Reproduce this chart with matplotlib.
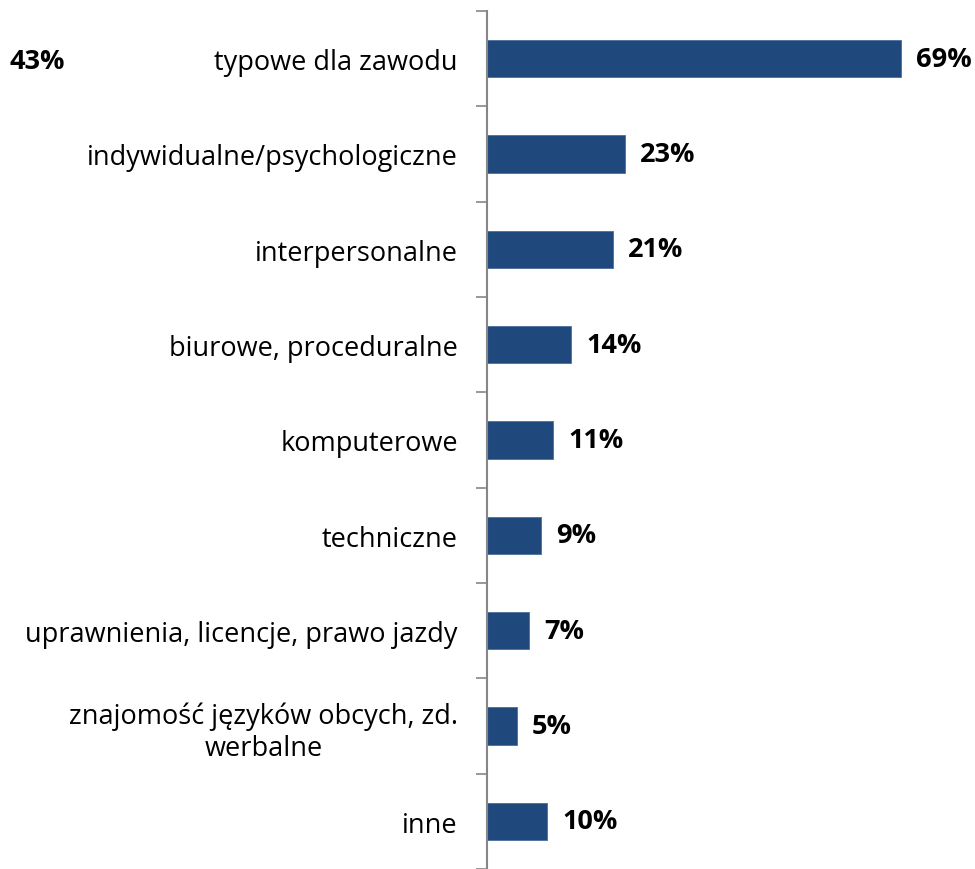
import matplotlib.pyplot as plt

categories = ["typowe dla zawodu", "indywidualne/psychologiczne", "interpersonalne",
              "biurowe, proceduralne", "komputerowe", "techniczne",
              "uprawnienia, licencje, prawo jazdy",
              "znajomość języków obcych, zd.\nwerbalne", "inne"]
values = [69, 23, 21, 14, 11, 9, 7, 5, 10]
side_note = "43%"

plt.rcParams['font.family'] = ['Open Sans', 'DejaVu Sans']

fig = plt.figure(figsize=(9.75, 8.7), dpi=100)
ax = fig.add_axes([487 / 975, 0.0, 480 / 975, 1 - 12 / 870])

n = len(values)
ypos = list(range(n))
ax.barh(ypos, values, height=0.39, color="#1F497D", edgecolor="#4A6F9C", linewidth=0.6)
ax.set_ylim(n - 0.5, -0.5)
ax.set_xlim(0, 80)

for y, v in zip(ypos, values):
    ax.text(v + 2.5, y, f"{v}%", va="center", ha="left", fontsize=19.5, fontweight="bold")

ax.set_yticks([i - 0.5 for i in range(n + 1)])
ax.set_yticklabels([])
ax.set_yticks(ypos, minor=True)
ax.set_yticklabels(categories, minor=True, fontsize=19.5, multialignment="center")
ax.tick_params(axis="y", which="minor", length=0, pad=21)
ax.tick_params(axis="y", which="major", length=8, width=1.2, color="#868686")
ax.set_xticks([])
for s in ["top", "right", "bottom"]:
    ax.spines[s].set_visible(False)
ax.spines["left"].set_color("#868686")
ax.spines["left"].set_linewidth(1.5)

fig.text(10 / 975, 1 - 62 / 870, side_note, fontsize=19.5, fontweight="bold", va="center", ha="left")

fig.savefig("out.png", dpi=100)
